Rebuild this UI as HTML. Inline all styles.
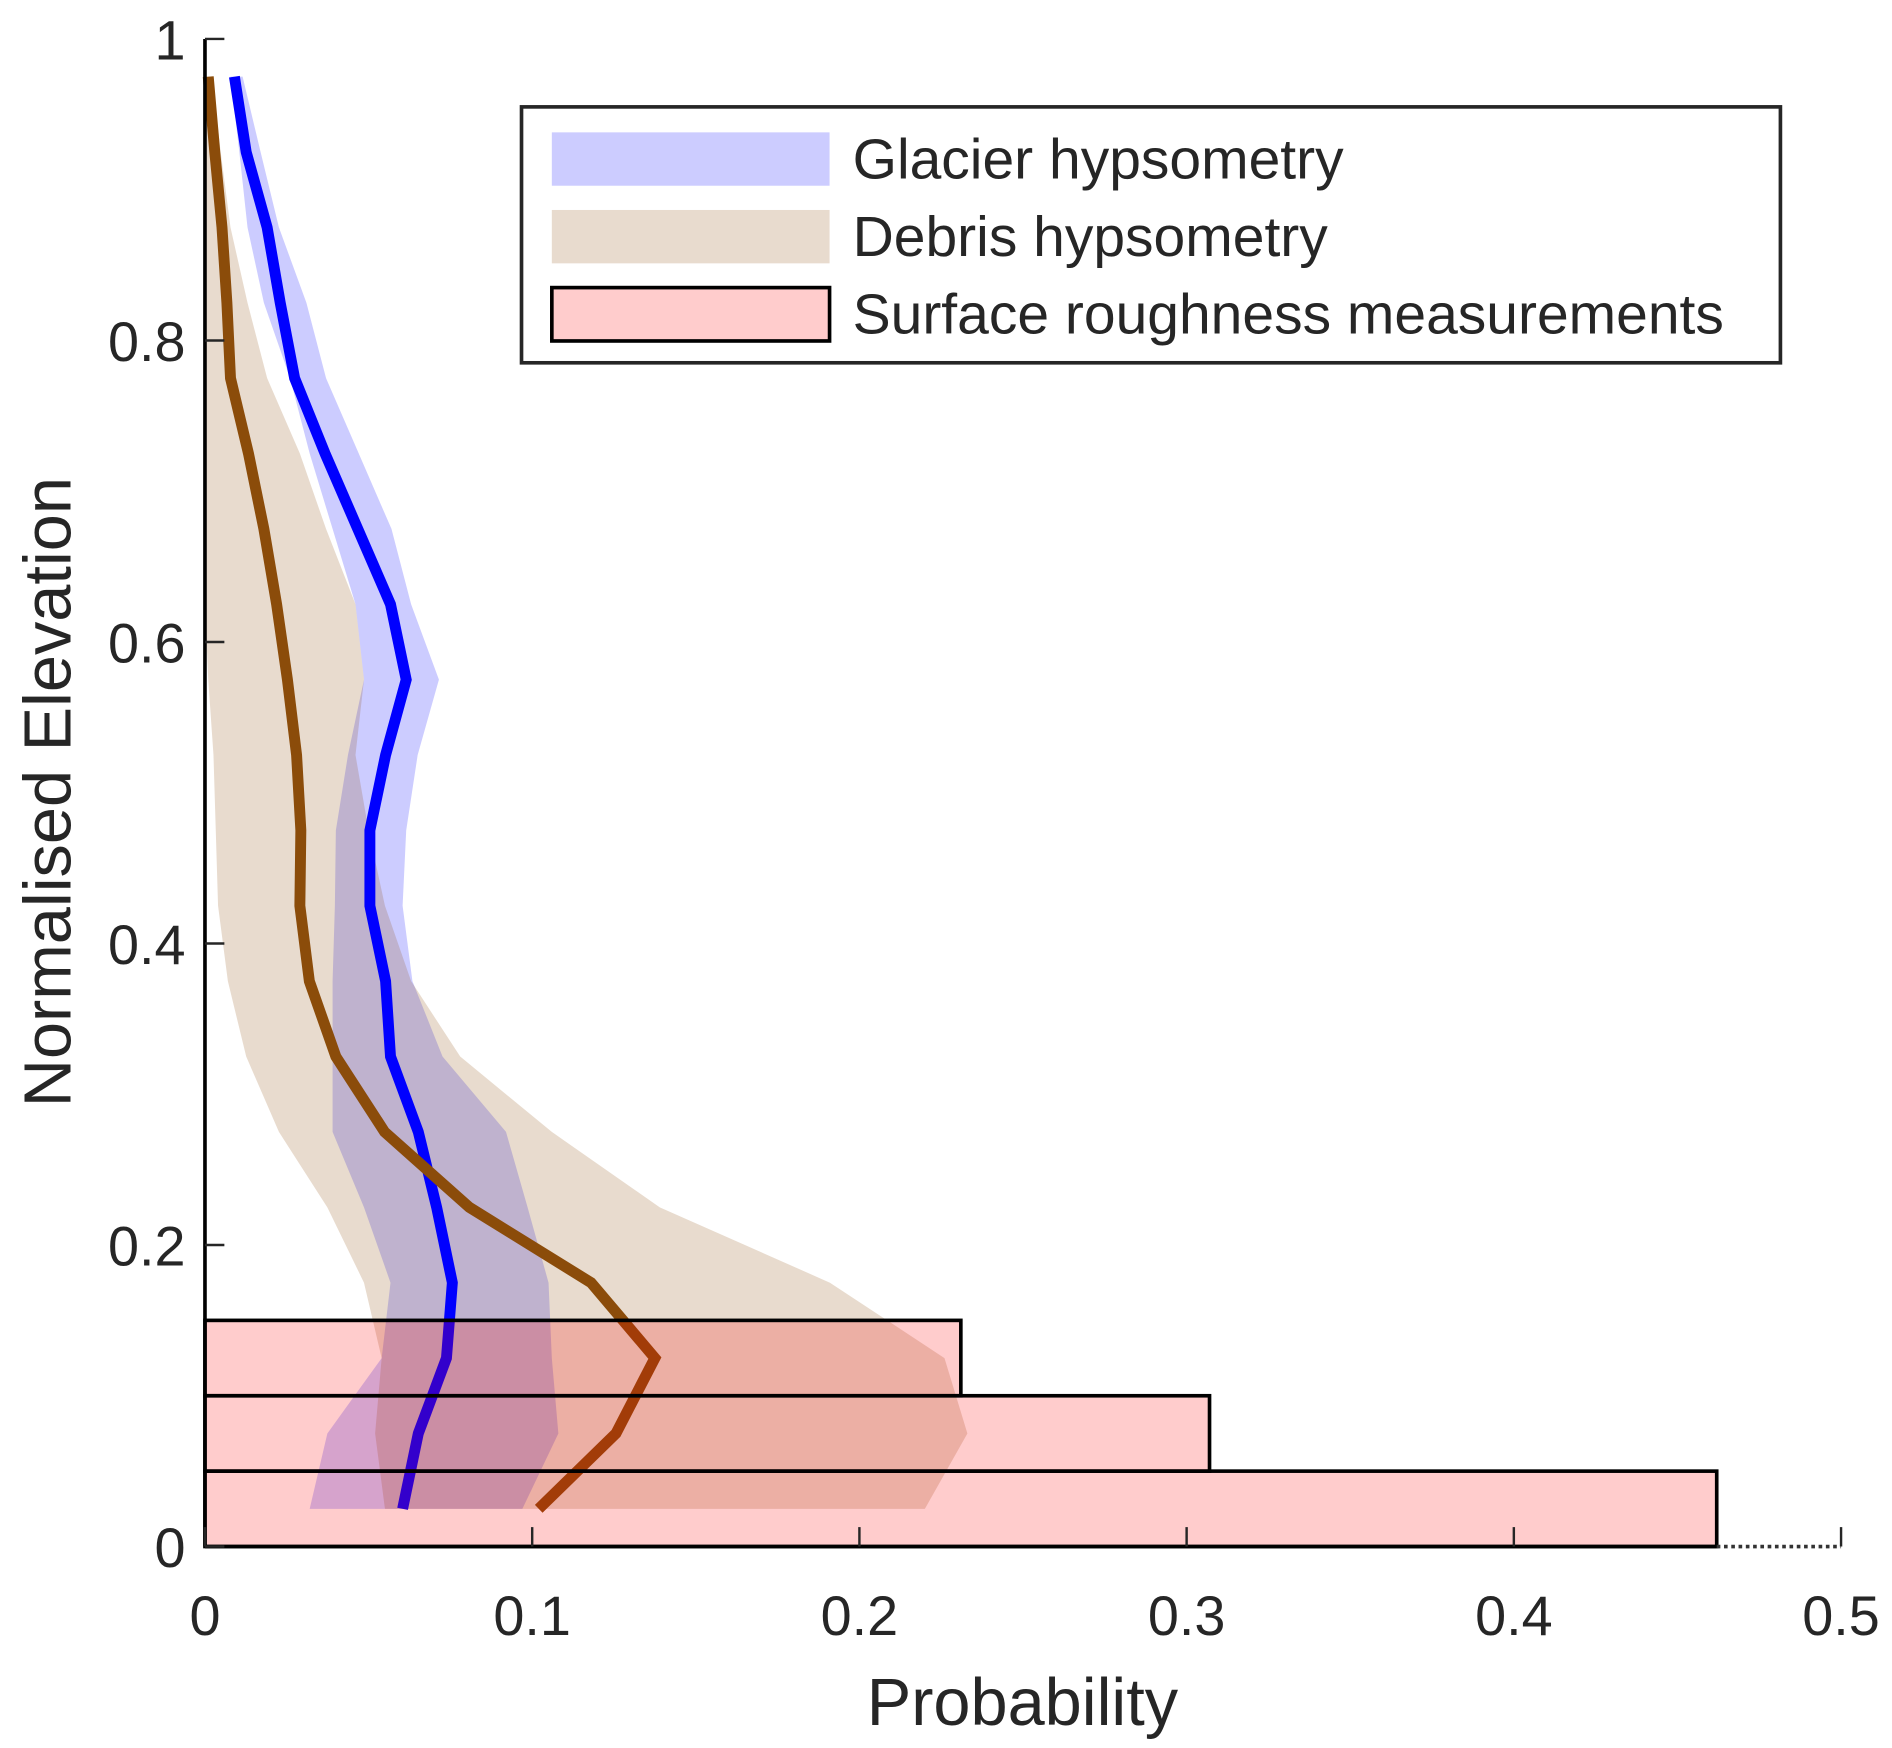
<!DOCTYPE html>
<html><head><meta charset="utf-8"><style>
html,body{margin:0;padding:0;background:#fff}
svg{display:block}
text{font-family:"Liberation Sans",sans-serif;fill:#262626}
</style></head><body>
<svg id="chart" width="1892" height="1748" viewBox="0 0 1560 1441" xmlns="http://www.w3.org/2000/svg"></svg>
<script>
const elev=[0.975,0.925,0.875,0.825,0.775,0.725,0.675,0.625,0.575,0.525,0.475,0.425,0.375,0.325,0.275,0.225,0.175,0.125,0.075,0.025];
const glacierMean=[0.009,0.0126,0.019,0.023,0.0274,0.0367,0.0467,0.0567,0.0615,0.0552,0.0504,0.0504,0.0552,0.0567,0.0652,0.0708,0.0756,0.0738,0.0652,0.0604];
const glacierLow=[0.0078,0.0105,0.013,0.018,0.026,0.032,0.039,0.046,0.0486,0.0437,0.040,0.0397,0.039,0.039,0.039,0.0486,0.0567,0.054,0.0374,0.032];
const glacierHigh=[0.0115,0.017,0.0226,0.031,0.037,0.047,0.057,0.063,0.0715,0.065,0.0615,0.0604,0.0634,0.0726,0.092,0.0986,0.105,0.106,0.108,0.097];
const debrisMean=[0.001,0.003,0.0052,0.0067,0.0078,0.0133,0.018,0.0219,0.0252,0.028,0.0293,0.029,0.0319,0.040,0.0549,0.0808,0.118,0.1375,0.1256,0.102];
const debrisLow=[0,0,0,0,0,0,0,0,0.001,0.0026,0.0033,0.004,0.007,0.0126,0.0226,0.0374,0.0486,0.054,0.052,0.055];
const debrisHigh=[0.0022,0.0048,0.0078,0.013,0.019,0.029,0.037,0.046,0.0486,0.046,0.050,0.055,0.063,0.078,0.106,0.139,0.191,0.226,0.233,0.22];
const binLow=[0,0.05,0.1];
const binHigh=[0.05,0.1,0.15];
const roughness=[0.462,0.307,0.231];
const xTicks=[0,0.1,0.2,0.3,0.4,0.5];
const yTicks=[0,0.2,0.4,0.6,0.8,1];
const yTickLabels=["0","0.2","0.4","0.6","0.8","1"];

const NS="http://www.w3.org/2000/svg";
const svg=document.getElementById('chart');
const X0=169,X1=1518,Y0=1275,Y1=32;
const sx=v=>X0+(X1-X0)*v/0.5;
const sy=v=>Y0-(Y0-Y1)*v;
function mk(tag,attrs,parent){const e=document.createElementNS(NS,tag);for(const k in attrs)e.setAttribute(k,attrs[k]);(parent||svg).appendChild(e);return e;}
function band(lo,hi,fill){let pts=[];for(let i=0;i<elev.length;i++)pts.push(sx(hi[i])+','+sy(elev[i]));for(let i=elev.length-1;i>=0;i--)pts.push(sx(lo[i])+','+sy(elev[i]));return mk('polygon',{points:pts.join(' '),fill:fill});}
function line(vals,stroke){return mk('polyline',{points:vals.map((v,i)=>sx(v)+','+sy(elev[i])).join(' '),fill:'none',stroke:stroke,'stroke-width':9,'stroke-linejoin':'miter'});}

const gb=band(glacierLow,glacierHigh,'rgba(0,0,255,0.2)');


const db=band(debrisLow,debrisHigh,'rgba(139,76,10,0.2)');


const gl=line(glacierMean,'#0000ff');


const dl=line(debrisMean,'#8b4c0a');


for(let i=0;i<roughness.length;i++){
  const r=mk('rect',{x:sx(0),y:sy(binHigh[i]),width:sx(roughness[i])-sx(0),height:sy(binLow[i])-sy(binHigh[i]),fill:'rgba(255,0,0,0.2)',stroke:'#000','stroke-width':3});
  
  
}
// axes
const xa=mk('line',{x1:X0,y1:Y0,x2:sx(roughness[0]),y2:Y0,stroke:'#000','stroke-width':3});


const xd=mk('line',{x1:sx(roughness[0]),y1:Y0,x2:X1,y2:Y0,stroke:'#333','stroke-width':3,'stroke-dasharray':'3 3'});


const ya=mk('line',{x1:X0,y1:Y0,x2:X0,y2:Y1,stroke:'#000','stroke-width':3});


xTicks.forEach(t=>{
  mk('line',{x1:sx(t),y1:Y0,x2:sx(t),y2:Y0-16,stroke:'#262626','stroke-width':2});
  const tx=mk('text',{x:sx(t),y:Y0+73,'font-size':46,'text-anchor':'middle'});tx.textContent=t===0?'0':String(t);
  
  
});
yTicks.forEach((t,i)=>{
  mk('line',{x1:X0,y1:sy(t),x2:X0+16,y2:sy(t),stroke:'#262626','stroke-width':2});
  const tx=mk('text',{x:X0-16,y:sy(t)+17,'font-size':46,'text-anchor':'end'});tx.textContent=yTickLabels[i];
  
  
});
const xt=mk('text',{x:843,y:1422,'font-size':55,'text-anchor':'middle'});xt.textContent='Probability';


const yt=mk('text',{x:0,y:0,'font-size':55,'text-anchor':'middle',transform:'translate(58,653) rotate(-90)'});yt.textContent='Normalised Elevation';


// legend
const lg=mk('g',{});


mk('rect',{x:430,y:88,width:1038,height:211,fill:'#fff',stroke:'#262626','stroke-width':3},lg);
const lgItems=[['Glacier hypsometry','rgba(0,0,255,0.2)','none'],['Debris hypsometry','rgba(139,76,10,0.2)','none'],['Surface roughness measurements','rgba(255,0,0,0.2)','#000']];
lgItems.forEach((it,i)=>{
  const cy=131+i*64;
  const g=mk('g',{},lg);
  
  
  mk('rect',{x:455,y:cy-22,width:229,height:44,fill:it[1],stroke:it[2],'stroke-width':3},g);
  const t=mk('text',{x:703,y:cy+16,'font-size':47,textLength:0},g);t.removeAttribute('textLength');t.textContent=it[0];
});
</script>
</body></html>
